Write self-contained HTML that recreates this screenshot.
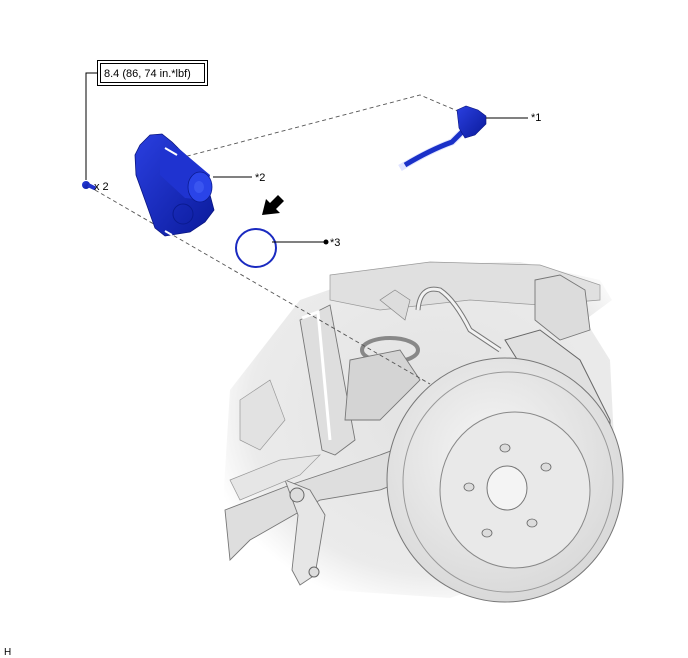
<!DOCTYPE html>
<html><head><meta charset="utf-8"><style>
html,body{margin:0;padding:0;background:#fff;}
svg{display:block}
text{font-family:"Liberation Sans",sans-serif;fill:#000}
</style></head><body>
<svg width="688" height="658" viewBox="0 0 688 658" xmlns="http://www.w3.org/2000/svg">
<defs>
<radialGradient id="bg" cx="0.55" cy="0.45" r="0.6">
<stop offset="0" stop-color="#e2e2e2"/><stop offset="0.8" stop-color="#ebebeb"/><stop offset="1" stop-color="#ffffff"/>
</radialGradient>
<radialGradient id="disc" cx="0.45" cy="0.4" r="0.7">
<stop offset="0" stop-color="#f6f6f6"/><stop offset="1" stop-color="#d4d4d4"/>
</radialGradient>
<linearGradient id="blue" x1="0" y1="0" x2="1" y2="1">
<stop offset="0" stop-color="#2a3fe0"/><stop offset="1" stop-color="#0a1a9a"/>
</linearGradient>
</defs>

<path d="M230 390 L300 300 L400 265 L520 262 L600 280 L612 300 L585 320 L610 360 L615 460 L560 560 L450 598 L330 590 L240 580 L222 520 Z" fill="url(#bg)"/>
<path d="M330 275 L430 262 L540 265 L600 285 L600 300 L540 305 L470 300 L380 310 L330 300 Z" fill="#e0e0e0" stroke="#999" stroke-width="0.7"/>
<path d="M300 320 L330 305 L355 440 L335 455 L322 450 Z" fill="#dedede" stroke="#777" stroke-width="0.9"/>
<path d="M302 318 L318 312 L330 440" fill="none" stroke="#fff" stroke-width="3"/>
<path d="M535 280 L560 275 L585 290 L590 330 L560 340 L535 320 Z" fill="#dcdcdc" stroke="#777" stroke-width="0.9"/>
<path d="M418 310 Q420 285 440 290 Q455 300 470 330 L500 350" fill="none" stroke="#777" stroke-width="5"/>
<path d="M418 310 Q420 285 440 290 Q455 300 470 330 L500 350" fill="none" stroke="#f2f2f2" stroke-width="3"/>
<ellipse cx="390" cy="350" rx="28" ry="12" fill="none" stroke="#888" stroke-width="4"/>
<path d="M350 360 L400 350 L420 380 L380 420 L345 420 Z" fill="#d4d4d4" stroke="#777" stroke-width="0.9"/>
<path d="M380 300 L395 290 L410 300 L405 320 Z" fill="#ddd" stroke="#888" stroke-width="0.7"/>
<path d="M225 510 L290 485 L380 455 L420 440 L430 470 L380 490 L320 500 L250 540 L230 560 Z" fill="#dedede" stroke="#777" stroke-width="0.9"/>
<path d="M285 480 L310 490 L325 515 L315 575 L300 585 L292 570 L298 515 Z" fill="#e6e6e6" stroke="#777" stroke-width="0.9"/>
<circle cx="297" cy="495" r="7" fill="#ddd" stroke="#666"/>
<circle cx="314" cy="572" r="5" fill="#ddd" stroke="#666"/>
<path d="M230 480 L280 460 L320 455 L300 475 L240 500 Z" fill="#e6e6e6" stroke="#999" stroke-width="0.7"/>
<path d="M240 400 L270 380 L285 420 L260 450 L240 440 Z" fill="#e2e2e2" stroke="#999" stroke-width="0.7"/>
<path d="M505 340 L540 330 L580 360 L610 420 L610 465 L580 475 L560 420 L530 380 Z" fill="#e0e0e0" stroke="#666" stroke-width="1"/>
<path d="M560 385 L590 400 L600 450 L580 455" fill="none" stroke="#888" stroke-width="1"/>
<ellipse cx="505" cy="480" rx="118" ry="122" fill="url(#disc)" stroke="#777" stroke-width="1"/>
<ellipse cx="508" cy="482" rx="105" ry="110" fill="none" stroke="#999" stroke-width="1"/>
<ellipse cx="515" cy="490" rx="75" ry="78" fill="#e9e9e9" stroke="#888" stroke-width="1"/>
<ellipse cx="507" cy="488" rx="20" ry="22" fill="#f4f4f4" stroke="#777" stroke-width="1"/>
<g fill="#dcdcdc" stroke="#666" stroke-width="0.8">
<ellipse cx="505" cy="448" rx="5" ry="4"/>
<ellipse cx="546" cy="467" rx="5" ry="4"/>
<ellipse cx="469" cy="487" rx="5" ry="4"/>
<ellipse cx="532" cy="523" rx="5" ry="4"/>
<ellipse cx="487" cy="533" rx="5" ry="4"/>
</g>

<g stroke="#555" stroke-width="0.9" stroke-dasharray="4,3" fill="none">
<path d="M180 158 L420 95 L460 112"/>
<path d="M95 190 L430 384"/>
</g>

<rect x="97.5" y="60.5" width="110" height="25" fill="#fff" stroke="#000"/>
<rect x="100.5" y="63.5" width="104" height="19" fill="none" stroke="#000"/>
<text x="104" y="77" font-size="11">8.4 (86, 74 in.*lbf)</text>
<path d="M97 73 L86 73 L86 180" stroke="#000" fill="none"/>
<ellipse cx="86" cy="185" rx="4" ry="4" fill="url(#blue)"/>
<rect x="88" y="183" width="8" height="4" fill="#2233cc" transform="rotate(25 88 185)"/>
<text x="94" y="190" font-size="11">x 2</text>

<path d="M140 145 L150 135 L162 134 L172 142 L180 150 L205 172 L210 195 L214 210 L205 222 L190 232 L165 236 L155 228 L145 200 L136 175 L135 155 Z" fill="url(#blue)" stroke="#0a1580" stroke-width="0.8"/>
<path d="M160 150 L178 148 L210 175 L205 200 L185 198 L160 175 Z" fill="#1f33d0"/>
<ellipse cx="200" cy="187" rx="12" ry="15" fill="#2a44e8" stroke="#0a1a90" stroke-width="0.8"/>
<ellipse cx="199" cy="187" rx="5" ry="6" fill="#3a55f0"/>
<ellipse cx="183" cy="214" rx="10" ry="10" fill="none" stroke="#0a1a90" stroke-width="1"/>
<line x1="165" y1="148" x2="177" y2="155" stroke="#fff" stroke-width="2"/>
<line x1="165" y1="231" x2="172" y2="235" stroke="#fff" stroke-width="2"/>
<path d="M213 177 L252 177" stroke="#000"/>
<text x="255" y="181" font-size="11">*2</text>

<path d="M400 168 Q430 150 452 142 L462 132" fill="none" stroke="#dfe3ff" stroke-width="7"/>
<path d="M405 165 Q430 150 452 142 L462 132" fill="none" stroke="#1a30c8" stroke-width="5"/>
<path d="M457 110 L466 106 L478 110 L486 116 L486 124 L475 135 L465 138 L459 128 Z" fill="url(#blue)" stroke="#0a1580" stroke-width="0.6"/>
<path d="M486 118 L528 118" stroke="#000"/>
<text x="531" y="121" font-size="11">*1</text>

<ellipse cx="256" cy="248" rx="20" ry="19" fill="none" stroke="#1a2ac0" stroke-width="2"/>
<path d="M272 242 L324 242" stroke="#000"/>
<circle cx="326" cy="242" r="2.5" fill="#000"/>
<text x="330" y="246" font-size="11">*3</text>
<path d="M262 215 L266 199 L270 203 L278 195 L284 201 L276 209 L280 213 Z" fill="#000"/>

<text x="4" y="655" font-size="10">H</text>
</svg>
</body></html>
